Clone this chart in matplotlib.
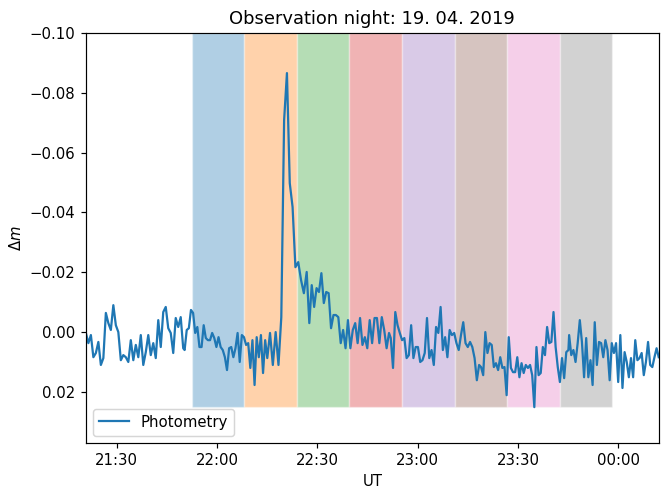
import numpy as np
import pandas as pd
import matplotlib
matplotlib.use("Agg")
import matplotlib.pyplot as plt
import matplotlib.dates as mdates

# Photometry segments: (start time, end time, Δm values sampled evenly inside)
seg1_range = ("2019-04-19 21:20:49", "2019-04-19 21:49:55")
seg1 = [0.0003, 0.0037, 0.0010, 0.0084, 0.0070, 0.0033, 0.0110, 0.0087, -0.0064, -0.0030,
        -0.0007, -0.0090, -0.0023, 0.0000, 0.0094, 0.0077, 0.0084, 0.0100, 0.0027, 0.0094,
        0.0043, 0.0084, 0.0010, 0.0110, 0.0067, 0.0010, 0.0077, 0.0037, 0.0087, -0.0040,
        0.0050, -0.0067, -0.0084, -0.0013, 0.0003, 0.0070, -0.0047, -0.0017, -0.0050, 0.0054]

seg2_range = ("2019-04-19 21:50:20", "2019-04-19 22:15:03")
seg2 = [0.0060, -0.0007, -0.0013, -0.0074, -0.0064, 0.0003, -0.0017, 0.0050, 0.0050, -0.0023,
        0.0020, 0.0027, 0.0027, 0.0003, 0.0020, 0.0050, 0.0017, 0.0050, 0.0060, 0.0084,
        0.0127, 0.0054, 0.0050, 0.0084, 0.0054, 0.0003, 0.0100, 0.0010, 0.0017, 0.0043,
        0.0037, 0.0120, 0.0027, 0.0177, 0.0017, 0.0084, 0.0010, 0.0137, 0.0027, 0.0087]

seg3_range = ("2019-04-19 22:15:52", "2019-04-19 22:26:50")
seg3 = [0.0003, 0.0110, 0.0000, 0.0110, -0.0050, -0.0709, -0.0866, -0.0498, -0.0418, -0.0217,
        -0.0234, -0.0174, -0.0130, -0.0201]

seg4_range = ("2019-04-19 22:27:37", "2019-04-19 22:51:27")
seg4 = [-0.0030, -0.0157, -0.0084, -0.0147, -0.0134, -0.0197, -0.0097, -0.0134, -0.0130, -0.0013,
        -0.0057, -0.0057, -0.0050, 0.0037, -0.0007, 0.0054, -0.0040, 0.0054, -0.0007, -0.0030,
        0.0037, -0.0047, 0.0043, 0.0017, 0.0054, -0.0040, 0.0037, -0.0047, -0.0047, 0.0037,
        -0.0050, -0.0007, 0.0054, 0.0003]

seg5_range = ("2019-04-19 22:51:58", "2019-04-19 23:18:23")
seg5 = [0.0020, 0.0120, -0.0067, -0.0023, 0.0003, 0.0027, 0.0020, 0.0087, 0.0077, -0.0023,
        0.0087, 0.0050, 0.0050, 0.0100, 0.0094, 0.0070, -0.0047, 0.0087, 0.0060, 0.0110,
        -0.0017, 0.0003, -0.0084, 0.0060, 0.0017, 0.0084, -0.0007, 0.0010, 0.0003, 0.0037,
        0.0060, 0.0010, -0.0033, 0.0037, 0.0050, 0.0033, 0.0050, 0.0087, 0.0161, 0.0110]

seg6_range = ("2019-04-19 23:18:58", "2019-04-19 23:45:05")
seg6 = [0.0117, 0.0144, 0.0000, 0.0070, 0.0037, 0.0043, 0.0117, 0.0104, 0.0127, 0.0084,
        0.0120, 0.0117, 0.0211, 0.0017, 0.0120, 0.0134, 0.0134, 0.0084, 0.0151, 0.0104,
        0.0137, 0.0110, 0.0120, 0.0110, 0.0144, 0.0251, 0.0050, 0.0144, 0.0137, 0.0050,
        0.0077, -0.0017, 0.0037, 0.0033, -0.0067, 0.0050, 0.0117, 0.0167, 0.0087, 0.0154,
        0.0067, 0.0060]

seg7_range = ("2019-04-19 23:45:18", "2019-04-20 00:12:05")
seg7 = [0.0010, 0.0077, 0.0060, 0.0100, 0.0037, -0.0040, 0.0033, 0.0151, 0.0020, 0.0151,
        0.0094, 0.0177, -0.0033, 0.0110, 0.0033, 0.0037, 0.0084, 0.0027, 0.0060, 0.0161,
        0.0037, 0.0070, 0.0037, 0.0167, 0.0010, 0.0187, 0.0067, 0.0100, 0.0151, 0.0087,
        0.0151, 0.0027, 0.0094, 0.0087, 0.0070, 0.0144, 0.0100, 0.0033, 0.0110, 0.0117,
        0.0084, 0.0054, 0.0084]

segments = [(seg1_range, seg1), (seg2_range, seg2), (seg3_range, seg3), (seg4_range, seg4),
            (seg5_range, seg5), (seg6_range, seg6), (seg7_range, seg7)]

# Shaded observation windows (boundaries)
span_edges = ["2019-04-19 21:52:37", "2019-04-19 22:08:10", "2019-04-19 22:23:56",
              "2019-04-19 22:39:35", "2019-04-19 22:55:26", "2019-04-19 23:11:05",
              "2019-04-19 23:26:50", "2019-04-19 23:42:36", "2019-04-19 23:58:04"]
span_top = -0.1
span_bottom = 0.025
span_colors = ["tab:blue", "tab:orange", "tab:green", "tab:red",
               "tab:purple", "tab:brown", "tab:pink", "tab:gray"]

times = []
values = []
for (t0, t1), vals in segments:
    times.append(pd.date_range(t0, t1, periods=len(vals)))
    values.extend(vals)
times = pd.DatetimeIndex(np.concatenate([t.values for t in times]))
values = np.array(values)

DPI = 107
fig = plt.figure(figsize=(671 / DPI, 489 / DPI), dpi=DPI)
ax = fig.add_subplot(111)
fig.subplots_adjust(left=0.128, right=0.9817, top=0.9325, bottom=0.094)

edges = mdates.date2num(pd.to_datetime(span_edges))
for i, c in enumerate(span_colors):
    ax.bar(edges[i], span_bottom - span_top, width=edges[i + 1] - edges[i],
           bottom=span_top, align="edge", color=c, alpha=0.35,
           edgecolor="white", linewidth=1.0, zorder=1)

ax.plot(times, values, color="tab:blue", lw=1.5, label="Photometry", zorder=2)

ax.set_xlim(times[0], times[-1])
ax.set_ylim(0.0371, -0.1)
ax.xaxis.set_major_locator(mdates.MinuteLocator(byminute=[0, 30]))
ax.xaxis.set_major_formatter(mdates.DateFormatter("%H:%M"))
ax.set_xlabel("UT")
ax.set_ylabel(r"$\Delta m$")
ax.set_title("Observation night: 19. 04. 2019")
ax.legend(loc="lower left")

fig.savefig("out.png", dpi=DPI)
